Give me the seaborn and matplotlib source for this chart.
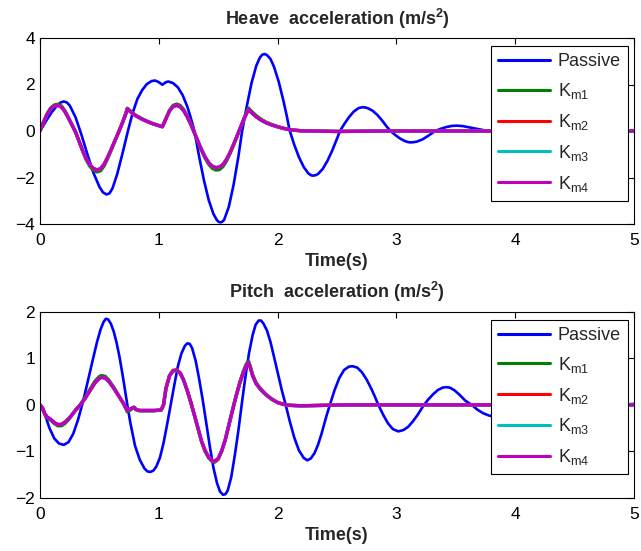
import matplotlib
matplotlib.use("Agg")
import matplotlib.pyplot as plt
import seaborn as sns

# ---------------- data ----------------
heave_passive_pts = [
    (0.00, 0.00), (0.05, 0.42), (0.10, 0.82), (0.15, 1.13), (0.175, 1.23), (0.20, 1.27),
    (0.225, 1.23), (0.25, 1.10), (0.30, 0.58), (0.35, -0.18), (0.40, -1.02), (0.45, -1.80),
    (0.50, -2.40), (0.53, -2.64), (0.56, -2.73), (0.585, -2.68), (0.61, -2.47), (0.65, -1.85),
    (0.70, -0.85), (0.74, 0.00), (0.78, 0.78), (0.82, 1.38), (0.86, 1.76), (0.90, 2.02),
    (0.94, 2.15), (0.97, 2.17), (1.00, 2.10), (1.03, 1.99), (1.06, 2.10), (1.08, 2.13),
    (1.12, 2.06), (1.16, 1.88), (1.20, 1.55), (1.24, 1.05), (1.27, 0.55), (1.30, 0.00),
    (1.34, -1.11), (1.38, -2.12), (1.42, -2.97), (1.46, -3.57), (1.49, -3.84), (1.505, -3.91),
    (1.52, -3.93), (1.535, -3.90), (1.55, -3.82), (1.59, -3.25), (1.63, -2.30), (1.67, -1.10),
    (1.70, -0.05), (1.74, 1.05), (1.78, 2.05), (1.82, 2.80), (1.85, 3.15), (1.87, 3.28),
    (1.89, 3.31), (1.91, 3.27), (1.94, 3.10), (1.97, 2.76), (2.01, 2.11), (2.05, 1.28),
    (2.08, 0.58), (2.10, 0.05), (2.14, -0.59), (2.18, -1.13), (2.22, -1.55), (2.26, -1.83),
    (2.285, -1.91), (2.30, -1.92), (2.32, -1.90), (2.34, -1.85), (2.38, -1.63), (2.42, -1.28),
    (2.46, -0.84), (2.50, -0.33), (2.525, 0.00), (2.56, 0.29), (2.60, 0.59), (2.64, 0.83),
    (2.68, 0.98), (2.70, 1.01), (2.72, 1.02), (2.74, 1.01), (2.76, 0.98), (2.80, 0.87),
    (2.84, 0.69), (2.88, 0.45), (2.92, 0.18), (2.95, 0.00), (2.99, -0.17), (3.03, -0.32),
    (3.07, -0.43), (3.10, -0.48), (3.12, -0.49), (3.145, -0.48), (3.17, -0.46), (3.22, -0.36),
    (3.27, -0.20), (3.325, 0.00), (3.37, 0.09), (3.42, 0.17), (3.47, 0.22), (3.51, 0.23),
    (3.56, 0.21), (3.62, 0.15), (3.68, 0.09), (3.74, 0.03), (3.80, -0.02), (3.90, -0.07),
    (4.00, -0.09), (4.10, -0.08), (4.20, -0.05), (4.30, -0.01), (4.40, 0.02), (4.50, 0.03),
    (4.60, 0.03), (4.70, 0.02), (4.80, 0.01), (4.90, 0.00), (5.00, 0.00),
]

heave_km_time = [
    0.00, 0.03, 0.06, 0.09, 0.12, 0.15, 0.18, 0.21, 0.24, 0.27, 0.30, 0.33, 0.36, 0.39,
    0.42, 0.45, 0.48, 0.51, 0.54, 0.57, 0.60, 0.63, 0.66, 0.69, 0.72, 0.735, 0.76, 0.80,
    0.85, 0.90, 0.95, 1.00, 1.03, 1.06, 1.09, 1.12, 1.15, 1.18, 1.21, 1.24, 1.27, 1.30,
    1.33, 1.36, 1.39, 1.42, 1.45, 1.48, 1.51, 1.54, 1.57, 1.60, 1.63, 1.66, 1.69, 1.72,
    1.755, 1.78, 1.82, 1.86, 1.90, 1.95, 2.00, 2.05, 2.10, 2.15, 2.20, 2.30, 2.50, 2.70,
    3.00, 4.00, 5.00,
]
heave_km1 = [
    0.00, 0.39, 0.74, 0.99, 1.12, 1.15, 1.08, 0.87, 0.57, 0.26, -0.06, -0.47, -0.88, -1.25,
    -1.52, -1.69, -1.76, -1.71, -1.50, -1.18, -0.82, -0.44, -0.07, 0.31, 0.73, 0.98, 0.87, 0.70,
    0.55, 0.43, 0.32, 0.24, 0.19, 0.54, 0.89, 1.10, 1.16, 1.10, 0.92, 0.63, 0.30, -0.08,
    -0.47, -0.84, -1.17, -1.43, -1.60, -1.68, -1.66, -1.53, -1.29, -0.97, -0.60, -0.21, 0.19, 0.58,
    0.99, 0.85, 0.66, 0.51, 0.39, 0.28, 0.19, 0.12, 0.07, 0.03, 0.01, 0.00, -0.02, -0.01,
    0.00, 0.00, 0.00,
]
heave_km4 = [
    0.00, 0.38, 0.72, 0.96, 1.08, 1.10, 1.03, 0.83, 0.55, 0.25, -0.05, -0.45, -0.85, -1.20,
    -1.45, -1.61, -1.67, -1.62, -1.42, -1.12, -0.78, -0.42, -0.07, 0.30, 0.70, 0.95, 0.83, 0.67,
    0.53, 0.41, 0.31, 0.23, 0.18, 0.52, 0.86, 1.05, 1.10, 1.04, 0.87, 0.60, 0.28, -0.08,
    -0.45, -0.80, -1.12, -1.36, -1.51, -1.57, -1.55, -1.44, -1.22, -0.92, -0.57, -0.20, 0.18, 0.55,
    0.93, 0.79, 0.61, 0.47, 0.36, 0.26, 0.18, 0.11, 0.06, 0.03, 0.01, 0.00, -0.02, -0.01,
    0.00, 0.00, 0.00,
]
heave_km2 = [v * 1.01 for v in heave_km4]
heave_km3 = list(heave_km4)

pitch_passive_pts = [
    (0.00, 0.00), (0.04, -0.20), (0.08, -0.50), (0.12, -0.72), (0.16, -0.83), (0.20, -0.86),
    (0.24, -0.80), (0.28, -0.62), (0.32, -0.32), (0.36, 0.05), (0.40, 0.48), (0.44, 0.92),
    (0.48, 1.35), (0.51, 1.62), (0.535, 1.78), (0.555, 1.85), (0.575, 1.83), (0.595, 1.75),
    (0.62, 1.58), (0.645, 1.33), (0.67, 1.02), (0.70, 0.57), (0.73, 0.08), (0.76, -0.38),
    (0.80, -0.88), (0.84, -1.18), (0.88, -1.37), (0.905, -1.43), (0.93, -1.44), (0.955, -1.41),
    (0.98, -1.32), (1.01, -1.13), (1.04, -0.82), (1.07, -0.42), (1.10, 0.00), (1.13, 0.42),
    (1.16, 0.82), (1.19, 1.10), (1.22, 1.27), (1.24, 1.32), (1.26, 1.31), (1.28, 1.22),
    (1.31, 0.95), (1.34, 0.55), (1.37, 0.10), (1.40, -0.40), (1.43, -0.90), (1.46, -1.35),
    (1.49, -1.68), (1.515, -1.86), (1.54, -1.93), (1.56, -1.92), (1.58, -1.84), (1.61, -1.55),
    (1.64, -1.08), (1.67, -0.55), (1.70, 0.05), (1.73, 0.62), (1.76, 1.12), (1.79, 1.50),
    (1.815, 1.72), (1.84, 1.81), (1.86, 1.81), (1.88, 1.75), (1.91, 1.60), (1.94, 1.35),
    (1.97, 1.03), (2.00, 0.70), (2.035, 0.32), (2.068, 0.00), (2.10, -0.33), (2.14, -0.70),
    (2.18, -0.98), (2.22, -1.14), (2.25, -1.19), (2.28, -1.15), (2.31, -1.04), (2.34, -0.86),
    (2.37, -0.62), (2.41, -0.25), (2.44, 0.00), (2.48, 0.32), (2.52, 0.58), (2.56, 0.75),
    (2.60, 0.82), (2.63, 0.83), (2.67, 0.80), (2.71, 0.70), (2.75, 0.54), (2.79, 0.34),
    (2.82, 0.17), (2.848, 0.00), (2.89, -0.22), (2.93, -0.40), (2.97, -0.52), (3.016, -0.57),
    (3.06, -0.54), (3.10, -0.47), (3.14, -0.35), (3.18, -0.21), (3.232, 0.00), (3.27, 0.12),
    (3.31, 0.23), (3.35, 0.32), (3.39, 0.37), (3.418, 0.38), (3.45, 0.37), (3.49, 0.31),
    (3.53, 0.22), (3.58, 0.09), (3.634, 0.00), (3.68, -0.10), (3.73, -0.18), (3.78, -0.23),
    (3.82, -0.25), (3.90, -0.22), (4.00, -0.12), (4.10, 0.00), (4.20, 0.10), (4.30, 0.14),
    (4.40, 0.12), (4.50, 0.06), (4.60, 0.00), (4.70, -0.04), (4.80, -0.04), (4.90, 0.00),
    (5.00, 0.02),
]

pitch_km_time = [
    0.00, 0.02, 0.04, 0.06, 0.09, 0.12, 0.15, 0.18, 0.21, 0.24, 0.27, 0.30, 0.34, 0.38,
    0.42, 0.46, 0.50, 0.52, 0.55, 0.58, 0.62, 0.66, 0.70, 0.735, 0.76, 0.79, 0.81, 0.84,
    0.90, 0.96, 1.02, 1.04, 1.06, 1.09, 1.12, 1.15, 1.18, 1.21, 1.24, 1.27, 1.30, 1.33,
    1.36, 1.39, 1.42, 1.45, 1.47, 1.50, 1.53, 1.56, 1.59, 1.62, 1.65, 1.68, 1.71, 1.735,
    1.755, 1.77, 1.79, 1.82, 1.86, 1.90, 1.95, 2.00, 2.05, 2.10, 2.20, 2.40, 2.60, 4.00,
    5.00,
]
pitch_km1 = [
    0.00, -0.06, -0.20, -0.28, -0.33, -0.40, -0.45, -0.45, -0.40, -0.32, -0.22, -0.11, 0.01, 0.16,
    0.33, 0.50, 0.61, 0.63, 0.61, 0.53, 0.38, 0.21, 0.04, -0.15, -0.11, -0.06, -0.11, -0.13,
    -0.13, -0.13, -0.11, 0.00, 0.35, 0.63, 0.74, 0.75, 0.69, 0.53, 0.30, 0.05, -0.23, -0.51,
    -0.79, -1.00, -1.14, -1.22, -1.23, -1.17, -0.99, -0.75, -0.43, -0.12, 0.19, 0.47, 0.71, 0.87,
    0.94, 0.83, 0.65, 0.47, 0.34, 0.23, 0.13, 0.05, 0.01, -0.01, -0.02, -0.01, 0.00, 0.00,
    0.00,
]
pitch_km4 = [
    0.00, -0.06, -0.19, -0.26, -0.31, -0.38, -0.42, -0.42, -0.37, -0.30, -0.21, -0.11, 0.00, 0.14,
    0.30, 0.46, 0.57, 0.59, 0.57, 0.50, 0.36, 0.20, 0.04, -0.12, -0.09, -0.05, -0.10, -0.12,
    -0.12, -0.12, -0.11, 0.00, 0.35, 0.62, 0.73, 0.74, 0.68, 0.52, 0.30, 0.05, -0.22, -0.50,
    -0.78, -0.98, -1.12, -1.20, -1.21, -1.15, -0.98, -0.74, -0.43, -0.12, 0.18, 0.45, 0.68, 0.83,
    0.91, 0.80, 0.62, 0.45, 0.32, 0.22, 0.12, 0.05, 0.01, -0.01, -0.02, -0.01, 0.00, 0.00,
    0.00,
]
pitch_km2 = [v * 1.01 for v in pitch_km4]
pitch_km3 = list(pitch_km4)

series_labels = ["Passive", "K$_{\\mathrm{m1}}$", "K$_{\\mathrm{m2}}$",
                 "K$_{\\mathrm{m3}}$", "K$_{\\mathrm{m4}}$"]
series_colors = ["#0000ff", "#008000", "#ff0000", "#00bfbf", "#bf00bf"]
x_ticks = [0, 1, 2, 3, 4, 5]
heave_yticks = [-4, -2, 0, 2, 4]
pitch_yticks = [-2, -1, 0, 1, 2]
titles = ["Heave  acceleration (m/s$^{\\mathbf{2}}$)",
          "Pitch  acceleration (m/s$^{\\mathbf{2}}$)"]
xlabel = "Time(s)"

assert len(heave_km_time) == len(heave_km1) == len(heave_km4)
assert len(pitch_km_time) == len(pitch_km1) == len(pitch_km4)

# ---------------- style ----------------
sns.set_style("white")
plt.rcParams["font.family"] = ["Liberation Sans", "DejaVu Sans"]
plt.rcParams["mathtext.fontset"] = "custom"
plt.rcParams["mathtext.rm"] = "Liberation Sans"
plt.rcParams["mathtext.it"] = "Liberation Sans:italic"
plt.rcParams["mathtext.bf"] = "Liberation Sans:bold"

fig = plt.figure(figsize=(6.41, 5.51), dpi=100)
ax_top = fig.add_axes([40 / 641, 1 - 224 / 551, 594 / 641, 186 / 551])
ax_bot = fig.add_axes([40 / 641, 1 - 498 / 551, 594 / 641, 186.3 / 551])


def draw(ax, passive_pts, km_time, km_series, yticks, title, title_pad):
    pt, pv = zip(*passive_pts)
    sns.lineplot(x=list(pt), y=list(pv), ax=ax, color=series_colors[0],
                 linewidth=1.9, label=series_labels[0])
    for vals, col, lab in zip(km_series, series_colors[1:], series_labels[1:]):
        sns.lineplot(x=km_time, y=vals, ax=ax, color=col, linewidth=2.4, label=lab)
    ax.set_xlim(0, 5)
    ax.set_ylim(yticks[0], yticks[-1])
    ax.set_xticks(x_ticks)
    ax.set_yticks(yticks)
    ax.tick_params(direction="in", top=True, right=True, length=4, width=0.8,
                   labelsize=12.5, colors="black")
    ax.tick_params(axis="x", pad=6.5)
    ax.tick_params(axis="y", pad=3.5)
    for s in ax.spines.values():
        s.set_visible(True)
        s.set_color("black")
        s.set_linewidth(0.8)
    ax.set_title(title, fontsize=13, fontweight="bold", pad=title_pad)
    ax.set_xlabel(xlabel, fontsize=13, fontweight="bold", labelpad=3.5)
    ax.set_ylabel("")
    leg = ax.legend(loc="upper right", bbox_to_anchor=(0.99, 0.957), borderaxespad=0,
                    frameon=True, fancybox=False, edgecolor="black", framealpha=1,
                    fontsize=13, handlelength=2.9, handletextpad=0.4,
                    labelspacing=0.6, borderpad=0.4)
    leg.get_frame().set_linewidth(0.8)
    for ln in leg.get_lines():
        ln.set_linewidth(2.2)


draw(ax_top, heave_passive_pts, heave_km_time,
     [heave_km1, heave_km2, heave_km3, heave_km4], heave_yticks, titles[0], 9.5)
draw(ax_bot, pitch_passive_pts, pitch_km_time,
     [pitch_km1, pitch_km2, pitch_km3, pitch_km4], pitch_yticks, titles[1], 10)

fig.savefig("out.png", dpi=100)
